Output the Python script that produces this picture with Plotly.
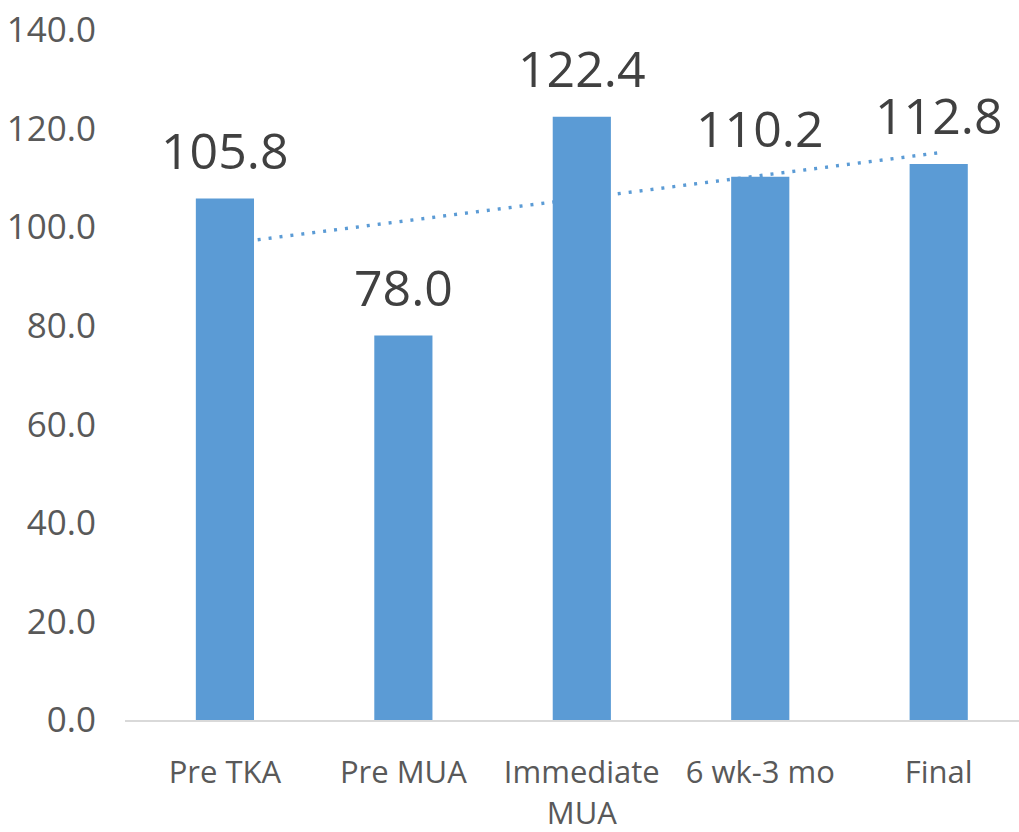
import numpy as np
import plotly.graph_objects as go

categories = ["Pre TKA", "Pre MUA", "Immediate<br>MUA", "6 wk-3 mo", "Final"]
values = [105.8, 78.0, 122.4, 110.2, 112.8]
tick_vals = [0, 20, 40, 60, 80, 100, 120, 140]
tick_text = ["0.0", "20.0", "40.0", "60.0", "80.0", "100.0", "120.0", "140.0"]

BAR = "#5B9BD5"
TXT = "#404040"
FONT = "Open Sans"

idx = np.arange(len(values))
slope, intercept = np.polyfit(idx, values, 1)

fig = go.Figure()
fig.add_trace(go.Bar(
    x=list(idx), y=values, width=0.326,
    marker=dict(color=BAR, line=dict(width=0)),
    hoverinfo="skip", showlegend=False,
))

# linear trendline, drawn beneath the bars
fig.add_shape(
    type="line", xref="x", yref="y", layer="below",
    x0=0, y0=intercept, x1=len(values) - 1, y1=intercept + slope * (len(values) - 1),
    line=dict(color=BAR, width=3.4, dash="3px,8px"),
)

for i, v in enumerate(values):
    fig.add_annotation(
        x=i, y=v, xref="x", yref="y", text=f"{v:.1f}", showarrow=False,
        yanchor="middle", yshift=49,
        font=dict(family=FONT, size=50, color=TXT),
    )

fig.update_layout(
    width=1019, height=832,
    margin=dict(l=125, r=0, t=30, b=112),
    plot_bgcolor="white", paper_bgcolor="white",
    bargap=0.5,
)
fig.update_xaxes(
    range=[-0.56, 4.45],
    tickmode="array", tickvals=list(idx), ticktext=categories,
    showline=True, linecolor="#D9D9D9", linewidth=2,
    showgrid=False, zeroline=False, ticks="",
    tickfont=dict(family=FONT, size=31, color="#595959"),
    ticklabelstandoff=24,
)
fig.update_yaxes(
    range=[0, 140],
    tickmode="array", tickvals=tick_vals, ticktext=tick_text,
    showline=False, showgrid=False, zeroline=False, ticks="",
    tickfont=dict(family=FONT, size=35, color="#595959"),
    ticklabelstandoff=28,
)

fig.write_html("out.html")
